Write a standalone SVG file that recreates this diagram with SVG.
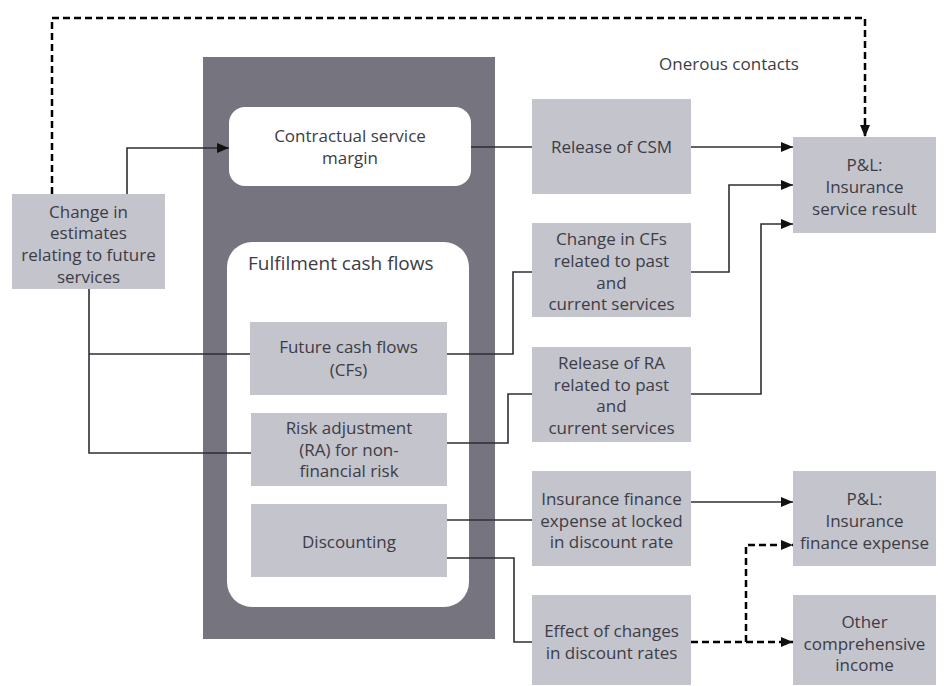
<svg xmlns="http://www.w3.org/2000/svg" width="944" height="686" viewBox="0 0 944 686">
<defs>
<style>
.t{font-family:"Open Sans","Liberation Sans",sans-serif;font-size:17px;fill:#3c3c46;text-anchor:middle}
.box{fill:#c4c4cc}
.ln{fill:none;stroke:#2e2e36;stroke-width:1.6}
.dl{fill:none;stroke:#000;stroke-width:2.5;stroke-dasharray:7 4}
</style>
<marker id="ah" markerUnits="userSpaceOnUse" markerWidth="13" markerHeight="12" refX="12" refY="6" orient="auto">
<path d="M0,1 L12,6 L0,11 z" fill="#111"/>
</marker>
</defs>
<rect width="944" height="686" fill="#fff"/>

<g id="panel">
<rect x="203" y="57" width="292" height="582" fill="#75747f"/>
</g>
<g id="csm">
<rect x="229" y="107" width="242" height="79" rx="16" fill="#fff"/>
<text class="t" x="350" y="142">Contractual service</text>
<text class="t" x="350" y="164">margin</text>
</g>
<g id="fcf">
<rect x="227" y="242" width="242" height="365" rx="25" fill="#fff"/>
<text class="t" x="248" y="270" style="text-anchor:start;font-size:19px">Fulfilment cash flows</text>
</g>
<g id="future-cfs">
<rect class="box" x="250" y="322" width="197" height="73"/>
<text class="t" x="348.5" y="353">Future cash flows</text>
<text class="t" x="348.5" y="376">(CFs)</text>
</g>
<g id="ra">
<rect class="box" x="251" y="413" width="196" height="73"/>
<text class="t" x="349" y="434">Risk adjustment</text>
<text class="t" x="349" y="456">(RA) for non-</text>
<text class="t" x="349" y="477">financial risk</text>
</g>
<g id="discounting">
<rect class="box" x="251" y="504" width="196" height="73"/>
<text class="t" x="349" y="548">Discounting</text>
</g>
<g id="change-estimates">
<rect class="box" x="12" y="194" width="153" height="95"/>
<text class="t" x="88.5" y="218">Change in</text>
<text class="t" x="88.5" y="239">estimates</text>
<text class="t" x="88.5" y="261">relating to future</text>
<text class="t" x="88.5" y="283">services</text>
</g>
<g id="release-csm">
<rect class="box" x="532" y="99" width="159" height="95"/>
<text class="t" x="611.5" y="153">Release of CSM</text>
</g>
<g id="change-cfs">
<rect class="box" x="532" y="223" width="159" height="94"/>
<text class="t" x="611.5" y="245">Change in CFs</text>
<text class="t" x="611.5" y="267">related to past</text>
<text class="t" x="611.5" y="289">and</text>
<text class="t" x="611.5" y="310">current  services</text>
</g>
<g id="release-ra">
<rect class="box" x="532" y="347" width="159" height="95"/>
<text class="t" x="611.5" y="369">Release of RA</text>
<text class="t" x="611.5" y="391">related to past</text>
<text class="t" x="611.5" y="412">and</text>
<text class="t" x="611.5" y="434">current  services</text>
</g>
<g id="ins-fin-exp-locked">
<rect class="box" x="532" y="471" width="159" height="95"/>
<text class="t" x="611.5" y="505">Insurance finance</text>
<text class="t" x="611.5" y="527">expense at locked</text>
<text class="t" x="611.5" y="548">in discount rate</text>
</g>
<g id="effect-discount">
<rect class="box" x="532" y="595" width="159" height="90"/>
<text class="t" x="611.5" y="637">Effect of changes</text>
<text class="t" x="611.5" y="659">in discount rates</text>
</g>
<g id="pl-service">
<rect class="box" x="793" y="137" width="143" height="96"/>
<text class="t" x="864.5" y="171">P&amp;L:</text>
<text class="t" x="864.5" y="193">Insurance</text>
<text class="t" x="864.5" y="215">service result</text>
</g>
<g id="pl-finance">
<rect class="box" x="793" y="471" width="143" height="95"/>
<text class="t" x="864.5" y="505">P&amp;L:</text>
<text class="t" x="864.5" y="527">Insurance</text>
<text class="t" x="864.5" y="549">finance expense</text>
</g>
<g id="oci">
<rect class="box" x="793" y="595" width="143" height="90"/>
<text class="t" x="864.5" y="628">Other</text>
<text class="t" x="864.5" y="650">comprehensive</text>
<text class="t" x="864.5" y="671">income</text>
</g>
<g id="label-onerous">
<text class="t" x="729" y="70">Onerous contacts</text>
</g>

<g id="connectors">
<path class="ln" d="M127,194 V148 H229" marker-end="url(#ah)"/>
<path class="ln" d="M471,147 H532"/>
<path class="ln" d="M691,147 H793" marker-end="url(#ah)"/>
<path class="ln" d="M89,289 V453 H251"/>
<path class="ln" d="M89,354 H250"/>
<path class="ln" d="M447,354 H513 V272 H532"/>
<path class="ln" d="M691,272 H729 V185 H793" marker-end="url(#ah)"/>
<path class="ln" d="M447,443 H508 V394 H532"/>
<path class="ln" d="M691,394 H761 V224 H793" marker-end="url(#ah)"/>
<path class="ln" d="M447,520 H532"/>
<path class="ln" d="M691,502 H793" marker-end="url(#ah)"/>
<path class="ln" d="M447,558 H514 V642 H532"/>
<path class="dl" d="M691,642 H793" marker-end="url(#ah)"/>
<path class="dl" d="M746,642 V545 H793" marker-end="url(#ah)"/>
<path class="dl" d="M52,194 V18 H865 V137" marker-end="url(#ah)"/>
</g>
</svg>
